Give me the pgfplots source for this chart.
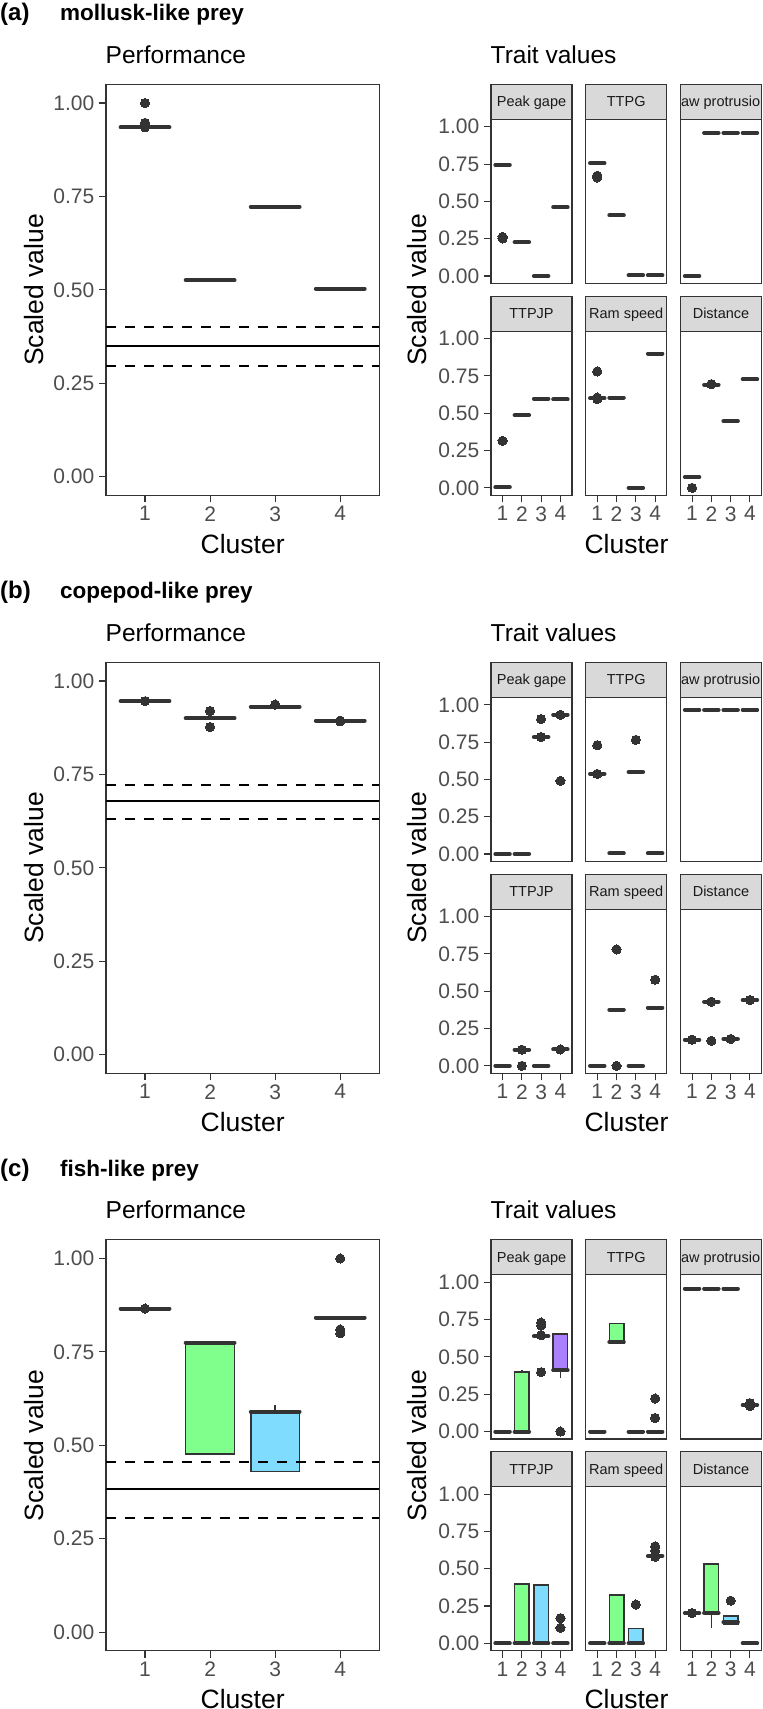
\documentclass[border=0pt]{standalone}
\usepackage{pgfplots}
\pgfplotsset{compat=1.18}
\usepgfplotslibrary{statistics}
\usepackage{fontspec}
\setmainfont{Liberation Sans}

\definecolor{grey10}{HTML}{1A1A1A}
\definecolor{grey20}{HTML}{333333}
\definecolor{grey30}{HTML}{4D4D4D}
\definecolor{grey85}{HTML}{D9D9D9}
\definecolor{cA}{HTML}{FF8080}
\definecolor{cB}{HTML}{80FF8C}
\definecolor{cC}{HTML}{80DCFF}
\definecolor{cD}{HTML}{AA80FF}

\pgfplotsset{
 base/.style={scale only axis, xmin=0.4, xmax=4.6, ymin=-0.05, ymax=1.05,
   axis line style={draw=grey20, line width=1.1pt},
   tick style={draw=grey20, line width=1.1pt},
   tick align=outside, tickpos=left, major tick length=7pt,
   /pgf/number format/assume math mode=true,
   tick label style={text=grey30, font=\fontsize{21}{25}\selectfont},
   xticklabel style={inner ysep=4pt},
   yticklabel style={inner xsep=4.5pt}},
 perf/.style={base, width=273.3pt, height=411pt, xtick={1,2,3,4},
   ytick={0,0.25,0.5,0.75,1}, yticklabels={0.00,0.25,0.50,0.75,1.00}},
 fac/.style={base, width=81pt, height=164.2pt},
 facL/.style={ytick={0,0.25,0.5,0.75,1}, yticklabels={0.00,0.25,0.50,0.75,1.00}},
 facN/.style={ytick=\empty},
 facB/.style={xtick={1,2,3,4}},
 facT/.style={xtick=\empty},
 bx/.style={draw=grey20, line width=1.5pt, solid, boxplot/draw direction=y,
   boxplot/box extend=0.75, boxplot/whisker extend=0,
   boxplot/every median/.style={line width=4pt, line cap=round}},
 pt/.style={only marks, mark=*, mark size=4.6pt, color=grey20,
   mark options={solid, draw=grey20, fill=grey20, line width=0pt}},
 hls/.style={black, line width=1.9pt},
}

% boxplot: position, lower whisker, lower quartile, median, upper quartile, upper whisker, fill
\newcommand{\bp}[7]{\addplot[bx, boxplot/every box/.style={fill=#7},
  boxplot prepared={draw position=#1, lower whisker=#2, lower quartile=#3,
  median=#4, upper quartile=#5, upper whisker=#6}] coordinates {};}
\newcommand{\bd}[2]{\bp{#1}{#2}{#2}{#2}{#2}{#2}{white}}
\newcommand{\pts}[1]{\addplot[pt] coordinates {#1};}
\newcommand{\hl}[3]{%
  \addplot[hls] coordinates {(0.4,#1) (4.6,#1)};
  \addplot[hls, dash pattern=on 10pt off 9pt] coordinates {(0.4,#2) (4.6,#2)};
  \addplot[hls, dash pattern=on 10pt off 9pt] coordinates {(0.4,#3) (4.6,#3)};}

\newcommand{\fax}[4]{\begin{axis}[fac, #3, at={({#1*1pt},{-(#2)*1pt})}, anchor=north west]#4\end{axis}}

\newcommand{\decor}[2]{% #1 panel label, #2 panel title
 \node[anchor=base west, inner sep=0, font=\bfseries\fontsize{24}{28}\selectfont] at (0pt,{-(\oy+20.5)*1pt}) {(#1)};
 \node[anchor=base west, inner sep=0, font=\bfseries\fontsize{22.5}{26}\selectfont] at (60pt,{-(\oy+20.5)*1pt}) {#2};
 \node[anchor=base west, inner sep=0, font=\fontsize{24.5}{28}\selectfont] at (105.5pt,{-(\oy+63.3)*1pt}) {Performance};
 \node[anchor=base west, inner sep=0, font=\fontsize{24.5}{28}\selectfont] at (490.5pt,{-(\oy+63.3)*1pt}) {Trait values};
 \node[anchor=base, inner sep=0, rotate=90, font=\fontsize{26.5}{30}\selectfont] at (43.3pt,{-(\oy+290)*1pt}) {Scaled value};
 \node[anchor=base, inner sep=0, rotate=90, font=\fontsize{26.5}{30}\selectfont] at (426.7pt,{-(\oy+290)*1pt}) {Scaled value};
 \node[anchor=base, inner sep=0, font=\fontsize{26.5}{30}\selectfont] at (242.7pt,{-(\oy+553.3)*1pt}) {Cluster};
 \node[anchor=base, inner sep=0, font=\fontsize{26.5}{30}\selectfont] at (626.5pt,{-(\oy+553.3)*1pt}) {Cluster};
 \foreach \xx/\yy/\lab in {491/84.3/Peak gape, 585.7/84.3/TTPG, 680.5/84.3/Jaw protrusion, 491/296.1/TTPJP, 585.7/296.1/Ram speed, 680.5/296.1/Distance}{
  \begin{scope}
   \clip ({\xx*1pt},{-(\oy+\yy)*1pt}) rectangle ++(81pt,-35pt);
   \fill[grey85] ({\xx*1pt},{-(\oy+\yy)*1pt}) rectangle ++(81pt,-35pt);
   \node[anchor=base, inner sep=0, text=grey10, font=\fontsize{14.5}{17}\selectfont] at ({(\xx+40.5)*1pt},{-(\oy+\yy+22.5)*1pt}) {\lab};
  \end{scope}
  \draw[grey20, line width=1.1pt] ({\xx*1pt},{-(\oy+\yy)*1pt}) rectangle ++(81pt,-35pt);
 }}

\begin{document}
\begin{tikzpicture}
\path[use as bounding box] (0pt,0pt) rectangle (763pt,-1709pt);

%%%%%%%%%%%%%%%% (a) mollusk-like prey
\def\oy{0}
\begin{axis}[perf, at={(106pt,{-(\oy+84.3)*1pt})}, anchor=north west]
 \pts{(1,1.0) (1,0.947) (1,0.935)}
 \bd{1}{0.935} \bd{2}{0.526} \bd{3}{0.722} \bd{4}{0.503}
 \hl{0.349}{0.401}{0.297}
\end{axis}
\fax{491}{\oy+119.3}{facL,facT}{\pts{(1,0.262) (1,0.252)} \bd{1}{0.744} \bd{2}{0.227} \bd{3}{0} \bd{4}{0.462}}
\fax{585.7}{\oy+119.3}{facN,facT}{\pts{(1,0.672) (1,0.66)} \bd{1}{0.756} \bd{2}{0.406} \bd{3}{0.005} \bd{4}{0.005}}
\fax{680.5}{\oy+119.3}{facN,facT}{\bd{1}{0} \bd{2}{0.959} \bd{3}{0.959} \bd{4}{0.959}}
\fax{491}{\oy+331.1}{facL,facB}{\pts{(1,0.315)} \bd{1}{0.005} \bd{2}{0.487} \bd{3}{0.597} \bd{4}{0.592}}
\fax{585.7}{\oy+331.1}{facN,facB}{\pts{(1,0.78) (1,0.605) (1,0.595)} \bd{1}{0.60} \bd{2}{0.605} \bd{3}{0} \bd{4}{0.90}}
\fax{680.5}{\oy+331.1}{facN,facB}{\pts{(1,0.0) (2,0.695)} \bd{1}{0.072} \bd{2}{0.692} \bd{3}{0.447} \bd{4}{0.726}}
\decor{a}{mollusk-like prey}

%%%%%%%%%%%%%%%% (b) copepod-like prey
\def\oy{578}
\begin{axis}[perf, at={(106pt,{-(\oy+84.3)*1pt})}, anchor=north west]
 \pts{(1,0.946) (2,0.92) (2,0.877) (3,0.937) (4,0.894) (4,0.892)}
 \bd{1}{0.946} \bd{2}{0.90} \bd{3}{0.931} \bd{4}{0.894}
 \hl{0.678}{0.7215}{0.6316}
\end{axis}
\fax{491}{\oy+119.3}{facL,facT}{\pts{(3,0.904) (3,0.784) (4,0.933) (4,0.49)} \bd{1}{0} \bd{2}{0} \bd{3}{0.784} \bd{4}{0.933}}
\fax{585.7}{\oy+119.3}{facN,facT}{\pts{(1,0.729) (1,0.537) (3,0.765)} \bd{1}{0.537} \bd{2}{0.005} \bd{3}{0.549} \bd{4}{0.005}}
\fax{680.5}{\oy+119.3}{facN,facT}{\bd{1}{0.965} \bd{2}{0.965} \bd{3}{0.965} \bd{4}{0.965}}
\fax{491}{\oy+331.1}{facL,facB}{\pts{(2,0.0) (2,0.108) (4,0.11)} \bd{1}{0} \bd{2}{0.108} \bd{3}{0} \bd{4}{0.11}}
\fax{585.7}{\oy+331.1}{facN,facB}{\pts{(2,0.78) (2,0.0) (4,0.577)} \bd{1}{0} \bd{2}{0.377} \bd{3}{0} \bd{4}{0.39}}
\fax{680.5}{\oy+331.1}{facN,facB}{\pts{(1,0.175) (2,0.43) (2,0.168) (3,0.18) (4,0.441)} \bd{1}{0.175} \bd{2}{0.43} \bd{3}{0.18} \bd{4}{0.441}}
\decor{b}{copepod-like prey}

%%%%%%%%%%%%%%%% (c) fish-like prey
\def\oy{1155.5}
\begin{axis}[perf, at={(106pt,{-(\oy+84.3)*1pt})}, anchor=north west]
 \pts{(1,0.866) (4,1.0) (4,0.81) (4,0.80)}
 \bd{1}{0.866}
 \bp{2}{0.477}{0.477}{0.775}{0.778}{0.778}{cB}
 \bp{3}{0.43}{0.43}{0.59}{0.591}{0.609}{cC}
 \bd{4}{0.842}
 \hl{0.383}{0.456}{0.306}
\end{axis}
\fax{491}{\oy+119.3}{facL,facT}{\pts{(3,0.73) (3,0.71) (3,0.645) (3,0.398) (4,0.0)} \bd{1}{0} \bp{2}{0}{0}{0}{0.398}{0.415}{cB} \bd{3}{0.639} \bp{4}{0.357}{0.41}{0.41}{0.652}{0.652}{cD}}
\fax{585.7}{\oy+119.3}{facN,facT}{\pts{(4,0.221) (4,0.091)} \bd{1}{0} \bp{2}{0.592}{0.592}{0.60}{0.725}{0.725}{cB} \bd{3}{0} \bd{4}{0}}
\fax{680.5}{\oy+119.3}{facN,facT}{\pts{(4,0.19) (4,0.17)} \bd{1}{0.958} \bd{2}{0.958} \bd{3}{0.958} \bd{4}{0.177}}
\fax{491}{\oy+331.1}{facL,facB}{\pts{(4,0.169) (4,0.104)} \bd{1}{0} \bp{2}{0}{0}{0}{0.397}{0.397}{cB} \bp{3}{0}{0}{0}{0.39}{0.39}{cC} \bd{4}{0}}
\fax{585.7}{\oy+331.1}{facN,facB}{\pts{(3,0.26) (4,0.65) (4,0.62) (4,0.58)} \bd{1}{0} \bp{2}{0}{0}{0}{0.325}{0.325}{cB} \bp{3}{0}{0}{0}{0.099}{0.099}{cC} \bd{4}{0.585}}
\fax{680.5}{\oy+331.1}{facN,facB}{\pts{(1,0.203) (3,0.286)} \bd{1}{0.203} \bp{2}{0.104}{0.203}{0.203}{0.532}{0.532}{cB} \bp{3}{0.125}{0.125}{0.14}{0.182}{0.182}{cC} \bd{4}{0}}
\decor{c}{fish-like prey}

\end{tikzpicture}
\end{document}
